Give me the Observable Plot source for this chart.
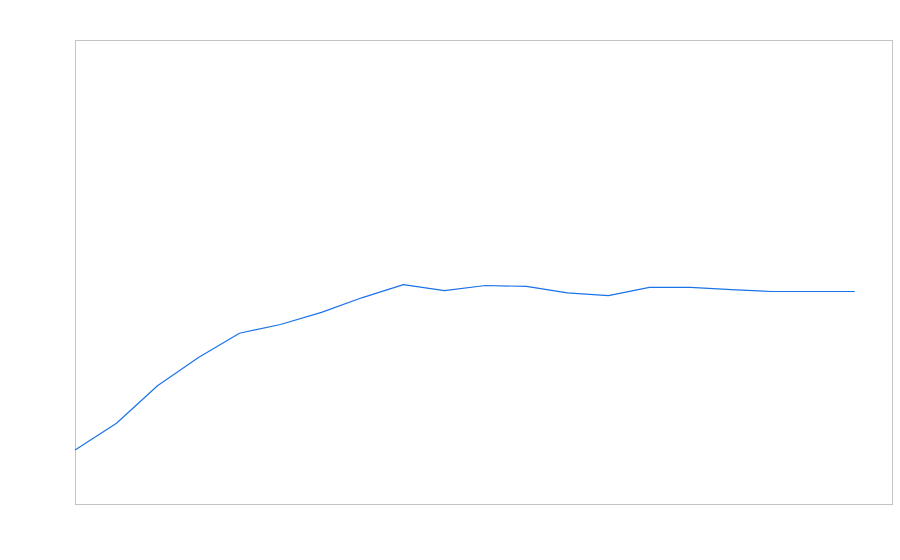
<!DOCTYPE html>
<html>
<head>
<meta charset="utf-8">
<script src="https://cdn.jsdelivr.net/npm/d3@7"></script>
<script src="https://cdn.jsdelivr.net/npm/@observablehq/plot@0.6"></script>
<style>
  html, body { margin: 0; padding: 0; background: #ffffff; }
  #chart svg { display: block; }
</style>
</head>
<body>
<div id="chart"></div>
<script>
const steps = [0, 1, 2, 3, 4, 5, 6, 7, 8, 9, 10, 11, 12, 13, 14, 15, 16, 17, 18, 19];
const values = [11.8, 17.5, 25.6, 31.7, 36.9, 38.8, 41.4, 44.6, 47.4, 46.1, 47.2, 47.0, 45.6, 45.0, 46.8, 46.8, 46.3, 45.9, 45.9, 45.9];

const data = steps.map((s, i) => ({step: s, value: values[i]}));

const chart = Plot.plot({
  width: 900,
  height: 560,
  marginLeft: 75,
  marginRight: 8,
  marginTop: 40,
  marginBottom: 56,
  style: {background: "#ffffff"},
  x: {domain: [0, 19.93], axis: null},
  y: {domain: [0, 100], axis: null},
  marks: [
    Plot.frame({stroke: "#c4c4c4", strokeWidth: 1}),
    Plot.line(data, {x: "step", y: "value", stroke: "#1a73e8", strokeWidth: 1.2})
  ]
});
document.getElementById("chart").appendChild(chart);
</script>
</body>
</html>
